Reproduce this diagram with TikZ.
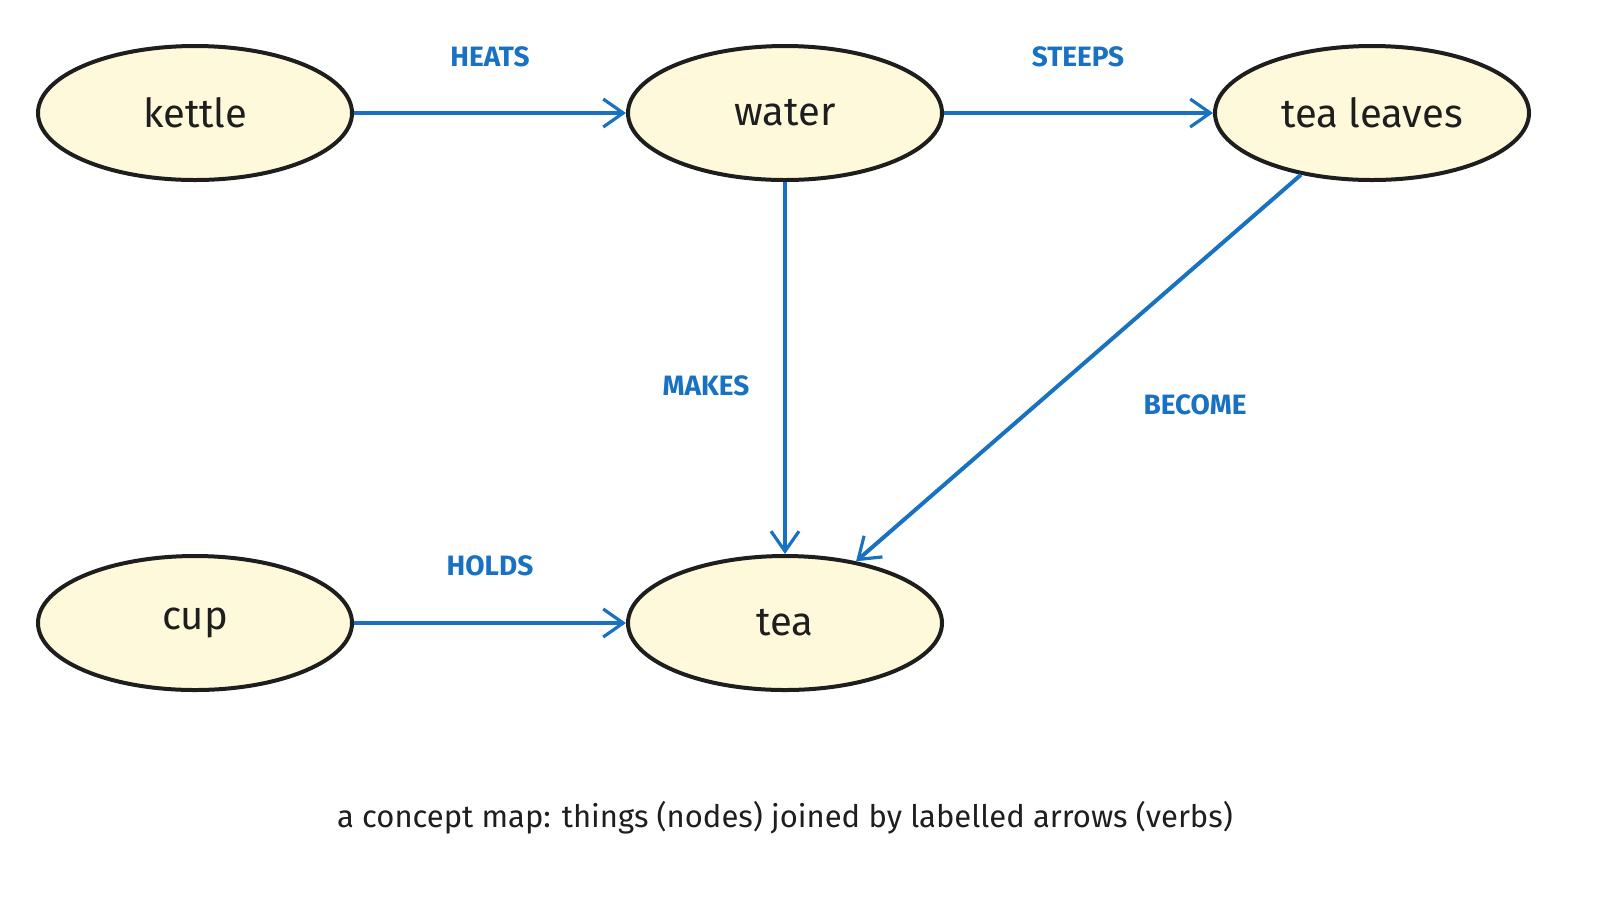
\documentclass[tikz,border=0pt]{standalone}
\usepackage{fontspec}
\setmainfont{Fira Sans}
\usetikzlibrary{shapes.geometric,arrows.meta}
\definecolor{nodefill}{HTML}{FFF9DB}
\definecolor{arrowblue}{HTML}{1971C2}
\definecolor{ink}{HTML}{1E1E1E}
\begin{document}
\begin{tikzpicture}[x=0.5pt,y=-0.5pt,
  concept/.style={ellipse,draw=ink,fill=nodefill,line width=2pt,minimum width=157pt,minimum height=67pt,inner sep=0pt,font=\fontsize{20}{24}\selectfont,text=ink},
  rel/.style={draw=arrowblue,line width=2pt,-{Straight Barb[length=10pt,width=14pt,line width=1.6pt]}},
  verb/.style={text=arrowblue,font=\fontsize{14}{16}\selectfont\bfseries}]
\useasboundingbox (0,0) rectangle (1600,896);
\node[concept] (kettle) at (195,113) {kettle};
\node[concept] (water) at (785,113) {water};
\node[concept] (leaves) at (1372,113) {tea leaves};
\node[concept] (cup) at (195,623) {cup};
\node[concept] (tea) at (785,623) {tea};
\draw[rel] (kettle) -- (water);
\draw[rel] (water) -- (leaves);
\draw[rel] (water) -- (tea);
\draw[rel] (leaves) -- (tea);
\draw[rel] (cup) -- (tea);
\node[verb] (l1) at (490,57) {HEATS};
\node[verb] (l2) at (1078,57) {STEEPS};
\node[verb] (l3) at (706,386) {MAKES};
\node[verb] (l4) at (1195,405) {BECOME};
\node[verb] (l5) at (490,566) {HOLDS};
\node[text=ink,font=\fontsize{15.5}{18}\selectfont] (cap) at (785,818) {a concept map: things (nodes) joined by labelled arrows (verbs)};
\end{tikzpicture}
\end{document}
